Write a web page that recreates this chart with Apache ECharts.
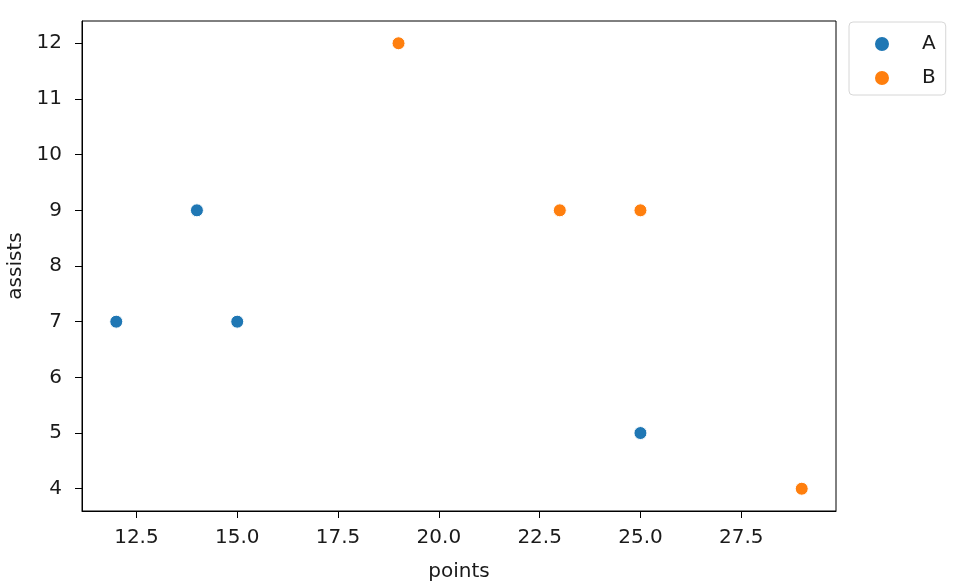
<!DOCTYPE html>
<html>
<head>
<meta charset="utf-8">
<script src="https://cdn.jsdelivr.net/npm/echarts@6/dist/echarts.min.js"></script>
<style>
  html, body { margin: 0; padding: 0; background: #fff; }
  #chart { width: 960px; height: 584px; }
</style>
</head>
<body>
<div id="chart"></div>
<script>
// data
const groupNames = ["A", "B"];
const pointsA = [12, 14, 15, 25];
const assistsA = [7, 9, 7, 5];
const pointsB = [19, 23, 25, 29];
const assistsB = [12, 9, 9, 4];
const xTicks = [12.5, 15.0, 17.5, 20.0, 22.5, 25.0, 27.5];
const yTicks = [4, 5, 6, 7, 8, 9, 10, 11, 12];

const colors = ["#1f77b4", "#ff7f0e"];
const font = "DejaVu Sans";
const fs = 20;

function pairs(xs, ys) {
  return xs.map((x, i) => [x, ys[i]]);
}

const myChart = echarts.init(document.getElementById("chart"));

const axisCommon = {
  axisLine: { show: true, onZero: false, lineStyle: { color: "#000", width: 1 } },
  splitLine: { show: false },
  nameLocation: "middle",
  nameTextStyle: { color: "#1a1a1a", fontFamily: font, fontSize: fs }
};

myChart.setOption({
  animation: false,
  color: colors,
  grid: {
    left: 82, right: 124, top: 21, bottom: 73,
    outerBoundsMode: "none",
    show: true, borderColor: "#000", borderWidth: 1
  },
  legend: {
    data: groupNames,
    orient: "vertical",
    left: 849,
    top: 22,
    padding: [12, 10, 7, 24],
    itemWidth: 16,
    itemHeight: 16,
    itemGap: 14,
    icon: "circle",
    backgroundColor: "#fff",
    borderColor: "#d6d6d6",
    borderWidth: 1,
    borderRadius: 4,
    textStyle: { color: "#1a1a1a", fontFamily: font, fontSize: fs, padding: [0, 0, 0, 27] }
  },
  xAxis: Object.assign({}, axisCommon, {
    type: "value",
    min: 11.15,
    max: 29.85,
    name: "points",
    nameGap: 51,
    axisTick: { show: true, inside: false, length: 7, customValues: xTicks, lineStyle: { color: "#000" } },
    axisLabel: {
      customValues: xTicks,
      margin: 17,
      color: "#1a1a1a",
      fontFamily: font,
      fontSize: fs,
      formatter: v => v.toFixed(1)
    }
  }),
  yAxis: Object.assign({}, axisCommon, {
    type: "value",
    min: 3.6,
    max: 12.4,
    name: "assists",
    nameGap: 56,
    axisTick: { show: true, inside: false, length: 7, customValues: yTicks, lineStyle: { color: "#000" } },
    axisLabel: {
      customValues: yTicks,
      margin: 20,
      color: "#1a1a1a",
      fontFamily: font,
      fontSize: fs
    }
  }),
  series: [
    {
      name: groupNames[0],
      type: "scatter",
      symbolSize: 13,
      itemStyle: { color: colors[0], borderColor: "#fff", borderWidth: 1, opacity: 1 },
      data: pairs(pointsA, assistsA)
    },
    {
      name: groupNames[1],
      type: "scatter",
      symbolSize: 13,
      itemStyle: { color: colors[1], borderColor: "#fff", borderWidth: 1, opacity: 1 },
      data: pairs(pointsB, assistsB)
    }
  ]
});

window.addEventListener("resize", () => {
  myChart.resize();
});
</script>
</body>
</html>
